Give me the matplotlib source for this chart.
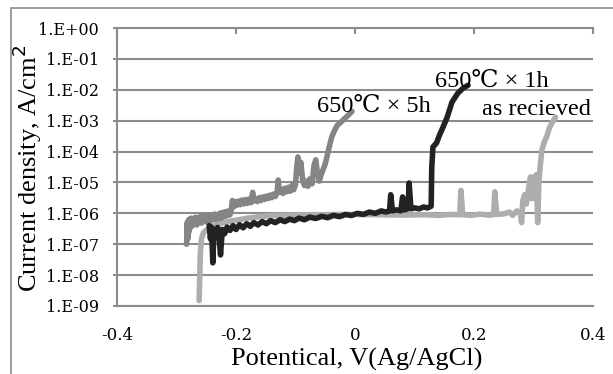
import matplotlib
matplotlib.use("Agg")
import matplotlib.pyplot as plt
from matplotlib.patches import Rectangle

plt.rcParams['font.family'] = ['Liberation Serif', 'DejaVu Serif', 'Noto Sans CJK JP', 'DejaVu Sans']

# 650℃×5h
v_5h = [-0.283, -0.282, -0.281, -0.280, -0.279, -0.278, -0.276, -0.275, -0.273, -0.272,
        -0.270, -0.268, -0.266, -0.264, -0.262, -0.260, -0.258, -0.256, -0.254, -0.252,
        -0.250, -0.248, -0.246, -0.244, -0.242, -0.240, -0.238, -0.236, -0.234, -0.232,
        -0.230, -0.228, -0.226, -0.224, -0.222, -0.220, -0.218, -0.216, -0.214, -0.212,
        -0.210, -0.208, -0.206, -0.204, -0.202, -0.199, -0.196, -0.193, -0.190, -0.187,
        -0.184, -0.181, -0.178, -0.175, -0.172, -0.170, -0.167, -0.164, -0.161, -0.158,
        -0.155, -0.152, -0.149, -0.146, -0.143, -0.140, -0.137, -0.134, -0.131, -0.129,
        -0.127, -0.124, -0.121, -0.118, -0.115, -0.112, -0.109, -0.106, -0.103, -0.100,
        -0.098, -0.096, -0.094, -0.091, -0.088, -0.085, -0.082, -0.079, -0.076, -0.072,
        -0.069, -0.066, -0.063, -0.060, -0.057, -0.054, -0.050, -0.047, -0.043, -0.039,
        -0.034, -0.030, -0.025, -0.020, -0.013, -0.005]
i_5h = [1.0e-7, 5.0e-7, 1.5e-7, 6.0e-7, 2.5e-7, 6.5e-7, 3.5e-7, 7.0e-7, 4.0e-7, 6.0e-7,
        4.5e-7, 7.5e-7, 4.2e-7, 7.0e-7, 5.0e-7, 8.0e-7, 4.8e-7, 7.5e-7, 5.5e-7, 8.5e-7,
        5.2e-7, 8.0e-7, 6.0e-7, 9.0e-7, 5.8e-7, 8.5e-7, 6.5e-7, 9.5e-7, 6.2e-7, 9.0e-7,
        7.0e-7, 1.0e-6, 6.8e-7, 1.05e-6, 7.5e-7, 1.1e-6, 8.0e-7, 1.15e-6, 8.5e-7, 1.2e-6,
        9.0e-7, 1.3e-6, 2.6e-6, 1.6e-6, 2.4e-6, 1.8e-6, 2.5e-6, 1.9e-6, 2.7e-6, 2.0e-6,
        2.8e-6, 2.1e-6, 2.9e-6, 2.2e-6, 4.8e-6, 2.5e-6, 3.0e-6, 2.4e-6, 3.2e-6, 2.6e-6,
        3.4e-6, 2.8e-6, 3.6e-6, 3.0e-6, 3.9e-6, 3.2e-6, 4.2e-6, 3.5e-6, 4.6e-6, 1.2e-5,
        4.8e-6, 6.0e-6, 4.4e-6, 6.5e-6, 5.0e-6, 7.0e-6, 5.2e-6, 8.0e-6, 5.8e-6, 8.5e-6,
        3.0e-5, 6.7e-5, 2.0e-5, 4.5e-5, 1.2e-5, 8.0e-6, 1.1e-5, 7.5e-6, 1.3e-5, 9.0e-6,
        3.5e-5, 5.4e-5, 2.0e-5, 1.1e-5, 1.8e-5, 2.5e-5, 4.0e-5, 7.0e-5, 1.5e-4, 3.0e-4,
        5.0e-4, 7.0e-4, 8.5e-4, 1.05e-3, 1.4e-3, 2.0e-3]

# 650℃×1h
v_1h = [-0.245, -0.243, -0.241, -0.239, -0.237, -0.234, -0.231, -0.229, -0.226, -0.223,
        -0.219, -0.215, -0.210, -0.205, -0.200, -0.194, -0.188, -0.182, -0.176, -0.170,
        -0.163, -0.156, -0.149, -0.142, -0.134, -0.126, -0.118, -0.110, -0.102, -0.094,
        -0.085, -0.076, -0.066, -0.056, -0.046, -0.036, -0.026, -0.016, -0.006, 0.004,
        0.014, 0.024, 0.034, 0.044, 0.052, 0.058, 0.060, 0.063, 0.070, 0.077,
        0.080, 0.083, 0.089, 0.091, 0.094, 0.100, 0.108, 0.115, 0.122, 0.128,
        0.129, 0.131, 0.137, 0.142, 0.148, 0.155, 0.163, 0.173, 0.181, 0.190]
i_1h = [4.0e-7, 1.5e-7, 3.5e-7, 2.5e-8, 3.0e-7, 2.0e-7, 3.5e-7, 2.2e-7, 4.5e-8, 3.0e-7,
        2.2e-7, 3.6e-7, 2.8e-7, 4.0e-7, 3.0e-7, 4.3e-7, 3.4e-7, 4.6e-7, 3.8e-7, 5.0e-7,
        4.2e-7, 5.4e-7, 4.6e-7, 5.8e-7, 5.0e-7, 6.2e-7, 5.4e-7, 6.5e-7, 5.8e-7, 7.0e-7,
        6.2e-7, 7.5e-7, 6.8e-7, 8.0e-7, 7.2e-7, 8.6e-7, 7.8e-7, 9.2e-7, 8.5e-7, 1.0e-6,
        9.2e-7, 1.1e-6, 1.0e-6, 1.2e-6, 1.1e-6, 1.2e-6, 4.0e-6, 1.2e-6, 1.3e-6, 1.2e-6,
        3.4e-6, 1.3e-6, 1.4e-6, 9.6e-6, 1.4e-6, 1.5e-6, 1.4e-6, 1.6e-6, 1.5e-6, 1.7e-6,
        3.0e-5, 1.4e-4, 1.9e-4, 3.4e-4, 6.2e-4, 1.3e-3, 4.0e-3, 7.8e-3, 1.1e-2, 1.4e-2]

# as recieved
v_ar = [-0.262, -0.261, -0.260, -0.258, -0.255, -0.250, -0.242, -0.230, -0.215, -0.200,
        -0.180, -0.160, -0.140, -0.110, -0.080, -0.050, -0.020, 0.000, 0.040, 0.080,
        0.120, 0.140, 0.160, 0.176, 0.178, 0.181, 0.195, 0.210, 0.225, 0.233,
        0.235, 0.238, 0.250, 0.260, 0.265, 0.272, 0.278, 0.280, 0.282, 0.285,
        0.288, 0.292, 0.295, 0.297, 0.300, 0.303, 0.305, 0.307, 0.309, 0.311,
        0.314, 0.318, 0.322, 0.327, 0.331, 0.337]
i_ar = [1.5e-9, 8.0e-9, 5.0e-8, 1.5e-7, 2.3e-7, 2.9e-7, 3.7e-7, 4.5e-7, 5.3e-7, 6.0e-7,
        7.0e-7, 7.8e-7, 8.4e-7, 8.8e-7, 9.0e-7, 9.0e-7, 9.2e-7, 9.2e-7, 9.0e-7, 8.8e-7,
        9.0e-7, 8.6e-7, 9.2e-7, 9.0e-7, 5.5e-6, 9.0e-7, 8.6e-7, 9.4e-7, 8.8e-7, 9.0e-7,
        5.0e-6, 9.2e-7, 9.6e-7, 1.1e-6, 8.6e-7, 1.2e-6, 1.0e-6, 5.0e-7, 2.5e-6, 4.0e-6,
        2.0e-6, 7.0e-6, 1.5e-5, 3.0e-6, 1.5e-5, 3.0e-6, 1.8e-5, 5.0e-7, 1.0e-5, 3.0e-5,
        1.1e-4, 2.0e-4, 3.0e-4, 6.0e-4, 8.5e-4, 1.3e-3]

x_ticks = [-0.4, -0.2, 0.0, 0.2, 0.4]
x_tick_labels = ['-0.4', '-0.2', '0', '0.2', '0.4']
y_ticks = [1e0, 1e-1, 1e-2, 1e-3, 1e-4, 1e-5, 1e-6, 1e-7, 1e-8, 1e-9]
y_tick_labels = ['1.E+00', '1.E-01', '1.E-02', '1.E-03', '1.E-04', '1.E-05',
                 '1.E-06', '1.E-07', '1.E-08', '1.E-09']

W, H = 613, 374
fig = plt.figure(figsize=(W / 100, H / 100), dpi=100)
ax = fig.add_axes([117 / W, 1 - 306 / H, (593 - 117) / W, (306 - 28) / H])

grid_c = '#8c8c8c'
lw = 4.0
ax.plot(v_5h, i_5h, color='#858585', lw=lw, solid_joinstyle='round', solid_capstyle='round', zorder=3)
ax.plot(v_ar, i_ar, color='#adadad', lw=lw, solid_joinstyle='round', solid_capstyle='round', zorder=2)
ax.plot(v_1h, i_1h, color='#222222', lw=lw, solid_joinstyle='round', solid_capstyle='round', zorder=4)

ax.set_yscale('log')
ax.set_xlim(-0.4, 0.4)
ax.set_ylim(1e-9, 1e0)
ax.set_yticks(y_ticks)
ax.set_yticklabels(y_tick_labels, family='DejaVu Serif')
ax.yaxis.set_minor_locator(matplotlib.ticker.NullLocator())
ax.set_xticks(x_ticks)
ax.set_xticklabels(x_tick_labels, family='DejaVu Serif')

ax.grid(axis='y', color=grid_c, lw=1.5, zorder=1)
ax.set_axisbelow(True)
ax.spines['right'].set_visible(False)
for s in ['left', 'top', 'bottom']:
    ax.spines[s].set_color(grid_c)
    ax.spines[s].set_linewidth(1.5)

ax.tick_params(axis='x', top=True, bottom=False, labeltop=False, labelbottom=True,
               direction='in', length=4, width=1.5, color=grid_c, labelsize=12, pad=15)
ax.tick_params(axis='y', direction='out', length=3, width=1.5, color=grid_c, labelsize=11.5, pad=10)

ax.set_xlabel('Potentical, V(Ag/AgCl)', fontsize=19, va='center')
ax.xaxis.set_label_coords((357 - 117) / 476, (306 - 359) / 278)
ax.set_ylabel('Current density, A/cm$^2$', fontsize=19, va='center')
ax.yaxis.set_label_coords((27 - 117) / 476, (306 - 168) / 278)

ax.text(-0.064, 1.9e-3, '650℃ × 5h', fontsize=17.5, ha='left', va='baseline', zorder=5)
ax.text(0.134, 1.23e-2, '650℃ × 1h', fontsize=17.5, ha='left', va='baseline', zorder=5)
ax.text(0.213, 1.5e-3, 'as recieved', fontsize=17.5, ha='left', va='baseline', zorder=5)

fig.add_artist(Rectangle((10.5 / W, -0.1), 1.2, 1 - 8.5 / H + 0.1, transform=fig.transFigure,
                         fill=False, edgecolor='#8c8c8c', lw=1.2))

fig.savefig('out.png', dpi=100)
